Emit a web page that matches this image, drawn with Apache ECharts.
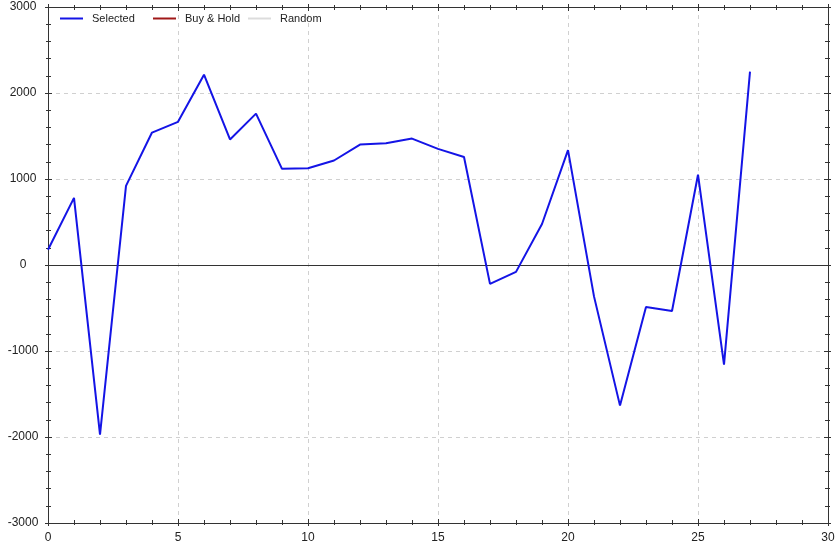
<!DOCTYPE html>
<html>
<head>
<meta charset="utf-8">
<script src="https://cdn.jsdelivr.net/npm/echarts@6/dist/echarts.min.js"></script>
<style>
html,body{margin:0;padding:0;background:#fff;}
#chart{width:839px;height:547px;}
</style>
</head>
<body>
<div id="chart"></div>
<script>
var xValues = [0,1,2,3,4,5,6,7,8,9,10,11,12,13,14,15,16,17,18,19,20,21,22,23,24,25,26,27];
var selectedValues = [178,780,-1972,920,1540,1665,2213,1460,1760,1118,1125,1215,1400,1415,1470,1350,1256,-220,-80,477,1335,-365,-1635,-488,-535,1050,-1158,2248];
var buyHoldValues = [];
var randomValues = [];
var seriesNames = ['Selected','Buy & Hold','Random'];
var xTickLabels = ['0','5','10','15','20','25','30'];
var yTickLabels = ['-3000','-2000','-1000','0','1000','2000','3000'];

var selectedData = xValues.map(function(x,i){return [x, selectedValues[i]];});

var font = 'Liberation Sans, Arial, sans-serif';
var axisColor = '#333';

function xAx(pos, inside, showLabel, showSplit){
  return {
    type:'value', position:pos, min:0, max:30, interval:5,
    axisLine:{show:true, onZero:false, lineStyle:{color:axisColor, width:1}},
    axisTick:{show:true, inside:inside, length:inside?4:3, lineStyle:{color:axisColor}},
    minorTick:{show:true, splitNumber:5, length:inside?3:2, lineStyle:{color:axisColor}},
    axisLabel:{show:showLabel, color:'#222', fontFamily:font, fontSize:12, margin:9,
      formatter:function(v){ var i = xTickLabels.indexOf(String(v)); return i>=0?xTickLabels[i]:''; }},
    splitLine:{show:showSplit, lineStyle:{color:'#d0d0d0', type:[4,4], width:1}},
    minorSplitLine:{show:false}
  };
}
function yAx(pos, inside, showLabel, showSplit){
  return {
    type:'value', position:pos, min:-3000, max:3000, interval:1000,
    axisLine:{show:true, onZero:false, lineStyle:{color:axisColor, width:1}},
    axisTick:{show:true, inside:inside, length:inside?4:3, lineStyle:{color:axisColor}},
    minorTick:{show:true, splitNumber:5, length:inside?3:2, lineStyle:{color:axisColor}},
    axisLabel:{show:showLabel, color:'#222', fontFamily:font, fontSize:12, margin:25, align:'center',
      formatter:function(v){ var i = yTickLabels.indexOf(String(v)); return i>=0?yTickLabels[i]:''; }},
    splitLine:{show:showSplit, lineStyle:{color:'#d0d0d0', type:[4,4], width:1}},
    minorSplitLine:{show:false}
  };
}
function lg(name, left){
  return {
    show:true, left:left, top:13, padding:0, itemWidth:23, itemHeight:2, icon:'rect',
    data:[name],
    textStyle:{fontFamily:font, fontSize:11, color:'#222', padding:[0,0,0,4]}
  };
}

var chart = echarts.init(document.getElementById('chart'), null, {renderer:'canvas'});
chart.setOption({
  animation:false,
  backgroundColor:'#fff',
  grid:{left:48, right:11, top:7, bottom:24, containLabel:false},
  legend:[lg(seriesNames[0], 60), lg(seriesNames[1], 153), lg(seriesNames[2], 248)],
  xAxis:[xAx('bottom', false, true, true), xAx('bottom', true, false, false), xAx('top', true, false, false), xAx('top', false, false, false)],
  yAxis:[yAx('left', false, true, true), yAx('left', true, false, false), yAx('right', true, false, false), yAx('right', false, false, false)],
  series:[
    {name:seriesNames[0], type:'line', data:selectedData, showSymbol:false, symbol:'none',
     lineStyle:{color:'#1414e6', width:2}, itemStyle:{color:'#1414e6'}, z:5,
     markLine:{silent:true, symbol:'none', label:{show:false},
       lineStyle:{color:'#333', width:1, type:'solid'}, data:[{yAxis:0}]}},
    {name:seriesNames[1], type:'line', data:buyHoldValues, showSymbol:false, symbol:'none',
     lineStyle:{color:'#a01818', width:2}, itemStyle:{color:'#a01818'}},
    {name:seriesNames[2], type:'line', data:randomValues, showSymbol:false, symbol:'none',
     lineStyle:{color:'#dcdcdc', width:2}, itemStyle:{color:'#dcdcdc'}}
  ]
});
</script>
</body>
</html>
